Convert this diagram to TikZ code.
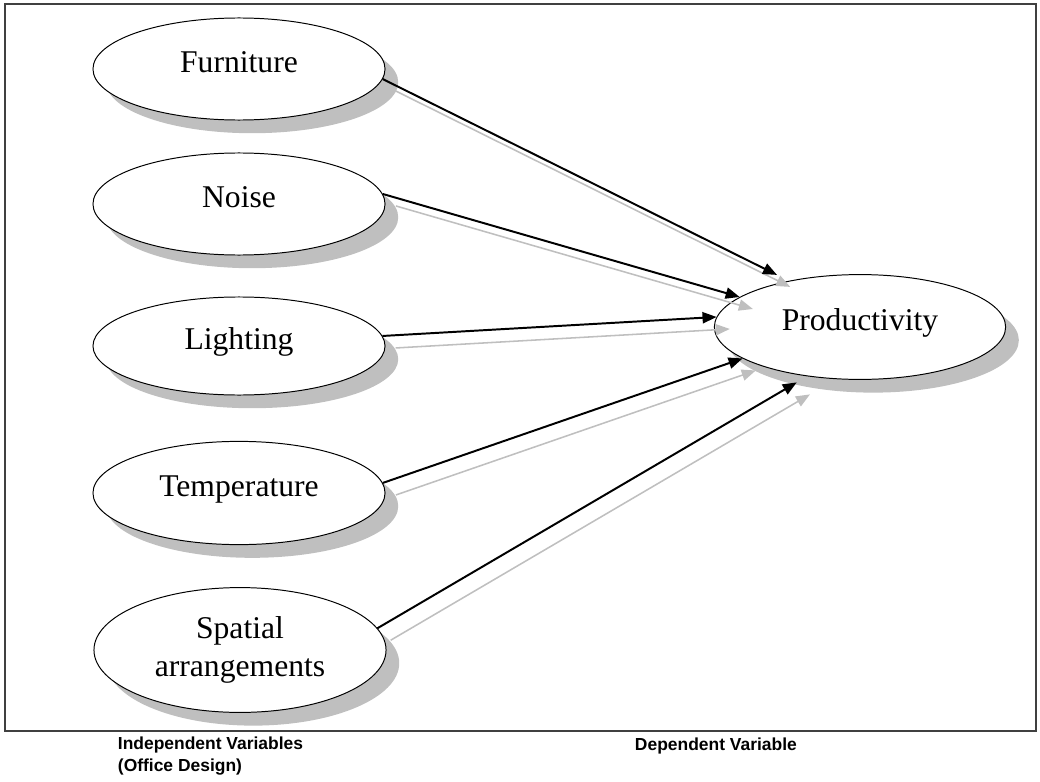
\documentclass[tikz,border=0pt]{standalone}
\usepackage{fontspec}
\setmainfont{Liberation Serif}
\newfontfamily\captionfont{Liberation Sans}
\usetikzlibrary {arrows.meta, positioning}
\usetikzlibrary {shapes.geometric, shadows}
\tikzset{
    >={Triangle[length=3.5mm, width=2.8mm]}
}
\tikzset{
    factorbase/.style={ellipse, draw=black, line width=0.7pt, fill=white,
        minimum width=7.3cm, minimum height=2.55cm, inner sep=0pt,
        font=\fontsize{22.5}{27}\selectfont,
        drop shadow={shadow xshift=0.33cm, shadow yshift=-0.33cm, fill=black!25, opacity=1}},
    factor/.style={factorbase, text height=0.55cm, text depth=0.38cm},
    effectline/.style={->, draw=black, line width=1.4pt},
    effectshadow/.style={->, draw=gray!50, line width=1.1pt,
        transform canvas={shift={(0.33cm,-0.3cm)}}},
    captiontext/.style={font=\captionfont\bfseries\fontsize{12.4}{15.5}\selectfont, align=left}
}

\begin{document}
\begin{tikzpicture}[x=0.025cm, y=-0.025cm]
    \useasboundingbox (0, 0) rectangle (1040, 782);
    % frame
    \draw [line width=1.6pt, black!75] (5, 4) rectangle (1036, 731);
    % independent variables
    \node [factor] (fur) at (239, 69) {Furniture};
    \node [factor] (noi) at (239, 204) {Noise};
    \node [factor, minimum height=2.45cm] (lig) at (239, 346) {Lighting};
    \node [factor, minimum height=2.58cm] (tem) at (239, 493) {Temperature};
    \node [factorbase, minimum height=3.12cm, align=center] (spa) at (240, 650) {Spatial\\arrangements};
    % dependent variable
    \node [factor, minimum width=7.28cm, minimum height=2.62cm] (prod) at (860, 327) {Productivity};
    % arrows
    \foreach \src/\from/\to/\cut in {fur/-4/147/0.33cm, noi/4/166/0pt, lig/4/176/0pt, tem/4/195/0pt, spa/9/-137/0.3cm} {
        \draw [effectshadow, shorten >=\cut] (\src.\from) -- (prod.\to);
    }
    \foreach \src/\from/\to/\cut in {fur/-4/147/0.33cm, noi/4/166/0pt, lig/4/176/0pt, tem/4/195/0pt, spa/9/-137/0.3cm} {
        \draw [effectline, shorten >=\cut] (\src.\from) -- (prod.\to);
    }
    % captions
    \node [captiontext, anchor=west] (indep) at (113, 756) {Independent Variables\\(Office Design)};
    \node [captiontext, anchor=west] (dep) at (630, 746) {Dependent Variable};
\end{tikzpicture}
\end{document}
